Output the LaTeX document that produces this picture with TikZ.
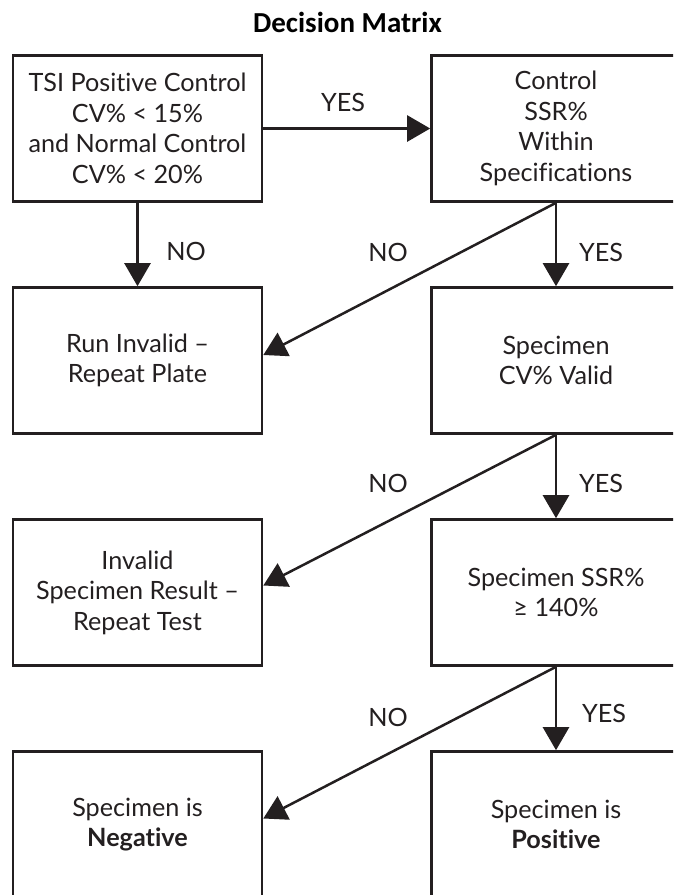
\documentclass[tikz,border=0pt]{standalone}
\usepackage{fontspec}
\setmainfont{Lato}[Ligatures=NoCommon]
\newfontfamily\titlefont{Carlito}
\usetikzlibrary{arrows.meta}
\definecolor{ink}{HTML}{231F20}
\tikzset{
  box/.style={draw=ink, line width=2.6pt, minimum width=249pt, minimum height=146pt, inner sep=0pt,
    align=center, text=ink, font=\fontsize{25.2}{30.5}\selectfont},
  conn/.style={draw=ink, line width=2.5pt, -{Triangle[length=23pt,width=26pt]}},
  lbl/.style={text=ink, font=\fontsize{25.2}{30.5}\selectfont, inner sep=0pt}
}
\begin{document}
\begin{tikzpicture}[x=1pt,y=-1pt]
\useasboundingbox (0,0) rectangle (673,895);
\clip (0,0) rectangle (673,895);
\node[text=black, font=\titlefont\bfseries\fontsize{29}{32}\selectfont, inner sep=0pt] (title) at (347.5,22) {Decision Matrix};
% boxes
\node[box] (tsi) at (137.5,128.5) {TSI Positive Control\\CV\% < 15\%\\and Normal Control\\CV\% < 20\%};
\node[box] (ctrl) at (556,128.5) {Control\\SSR\%\\Within\\Specifications};
\node[box] (runinv) at (137.5,360.5) {Run Invalid –\\Repeat Plate};
\node[box] (cvvalid) at (556,360.5) {Specimen\\CV\% Valid};
\node[box] (invspec) at (137.5,592.5) {Invalid\\Specimen Result –\\Repeat Test};
\node[box] (ssr) at (556,592.5) {Specimen SSR\%\\≥ 140\%};
\node[box] (neg) at (137.5,824.5) {Specimen is\\\textbf{Negative}};
\node[box] (pos) at (556,824.5) {Specimen is\\\textbf{Positive}};
% connectors
\draw[conn] (tsi.east) -- (ctrl.west);
\draw[conn] (tsi.south) -- (runinv.north);
\draw[conn] (ctrl.south) -- (cvvalid.north);
\draw[conn] (ctrl.south) -- ([yshift=5.5pt]runinv.east);
\draw[conn] (cvvalid.south) -- (ssr.north);
\draw[conn] (cvvalid.south) -- ([yshift=7pt]invspec.east);
\draw[conn] (ssr.south) -- (pos.north);
\draw[conn] (ssr.south) -- ([yshift=6pt]neg.east);
% labels
\node[lbl] (l1) at (343,102) {YES};
\node[lbl] (l2) at (186,251) {NO};
\node[lbl] (l3) at (388,252) {NO};
\node[lbl] (l4) at (601,252) {YES};
\node[lbl] (l5) at (388,483) {NO};
\node[lbl] (l6) at (601,483) {YES};
\node[lbl] (l7) at (388,717) {NO};
\node[lbl] (l8) at (604,713) {YES};
\end{tikzpicture}
\end{document}
